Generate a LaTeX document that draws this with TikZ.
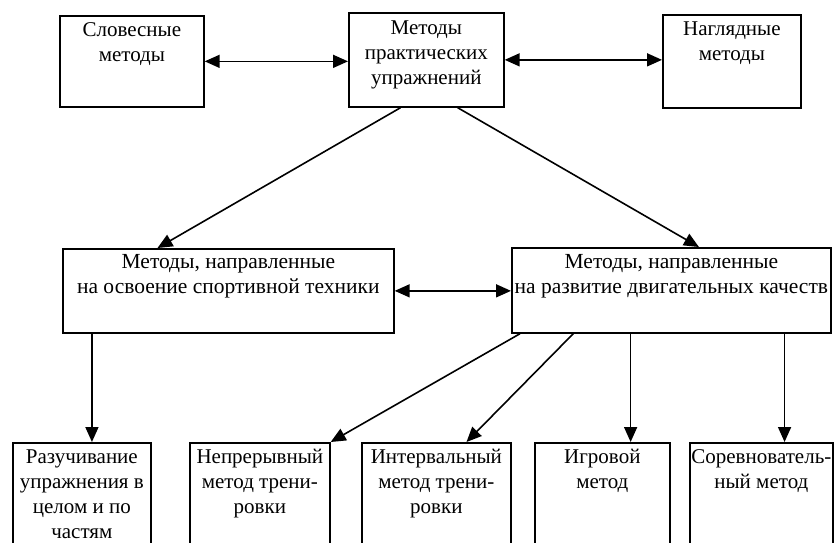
\documentclass[tikz,border=0pt]{standalone}
\usepackage{fontspec}
\setmainfont{Liberation Serif}
\usetikzlibrary{arrows.meta,calc}
\tikzset{
  box/.style={draw=black, line width=1.7pt, fill=none, inner sep=0pt, rectangle},
  txt/.style={align=center, inner sep=0pt, font=\fontsize{21}{25}\selectfont},
  txtw/.style={align=center, inner sep=0pt, font=\fontsize{21.5}{25}\selectfont},
  arr/.style={line width=1.6pt, -{Triangle[length=15pt,width=13pt]}},
  arrb/.style={line width=1.6pt, {Triangle[length=15pt,width=13pt]}-{Triangle[length=15pt,width=13pt]}}
}
\begin{document}
\begin{tikzpicture}[x=1pt,y=-1pt]
\useasboundingbox (0,0) rectangle (840,542);
\fill[white] (0,0) rectangle (840,542);
\clip (0,0) rectangle (840,542);
% top row
\node[box, minimum width=144pt, minimum height=91pt, anchor=north west] (slov) at (59,15) {};
\node[box, minimum width=155pt, minimum height=94pt, anchor=north west] (prak) at (348,12) {};
\node[box, minimum width=138pt, minimum height=93pt, anchor=north west] (nagl) at (662,14) {};
% middle row
\node[box, minimum width=331pt, minimum height=84pt, anchor=north west] (ml) at (62,248) {};
\node[box, minimum width=319pt, minimum height=85pt, anchor=north west] (mr) at (511,247) {};
% bottom row
\node[box, minimum width=138pt, minimum height=130pt, anchor=north west] (b1) at (12,442) {};
\node[box, minimum width=140pt, minimum height=130pt, anchor=north west] (b2) at (189,442) {};
\node[box, minimum width=149pt, minimum height=130pt, anchor=north west] (b3) at (361,442) {};
\node[box, minimum width=135pt, minimum height=130pt, anchor=north west] (b4) at (534,442) {};
\node[box, minimum width=143pt, minimum height=130pt, anchor=north west] (b5) at (689,442) {};
% texts (first baseline about 21pt below the box top; strut height 17.5pt)
\node[txt, anchor=north] (slovT) at ($(slov.north)+(0,3.5)$) {\strut Словесные\\методы};
\node[txt, anchor=north] (prakT) at ($(prak.north)+(0,4.5)$) {\strut Методы\\практических\\упражнений};
\node[txt, anchor=north] (naglT) at ($(nagl.north)+(0,3.5)$) {\strut Наглядные\\методы};
\node[txtw, anchor=north] (mlT) at ($(ml.north)+(0,3)$) {\strut Методы, направленные\\на освоение спортивной техники};
\node[txtw, anchor=north] (mrT) at ($(mr.north)+(0,3.5)$) {\strut Методы, направленные\\на развитие двигательных качеств};
\node[txt, anchor=north] (b1T) at ($(b1.north)+(0,3.5)$) {\strut Разучивание\\упражнения в\\целом и по\\частям};
\node[txt, anchor=north] (b2T) at ($(b2.north)+(0,3.5)$) {\strut Непрерывный\\метод трени-\\ровки};
\node[txt, anchor=north] (b3T) at ($(b3.north)+(0,3.5)$) {\strut Интервальный\\метод трени-\\ровки};
\node[txt, anchor=north] (b4T) at ($(b4.north)+(0,3.5)$) {\strut Игровой\\метод};
\node[txt, anchor=north] (b5T) at ($(b5.north)+(0,3.5)$) {\strut Соревнователь-\\ный метод};
% horizontal double arrows
\draw[arrb] (slov.east) -- (slov.east -| prak.west);
\draw[arrb] (prak.east) -- (prak.east -| nagl.west);
\draw[arrb] (ml.east) -- (ml.east -| mr.west);
% diagonals from top centre
\draw[arr] ($(prak.south west)!0.335!(prak.south east)$) -- ($(ml.north west)!0.287!(ml.north east)$);
\draw[arr] ($(prak.south west)!0.70!(prak.south east)$) -- ($(mr.north west)!0.586!(mr.north east)$);
% left vertical
\coordinate (l1) at ($(ml.south west)!0.09!(ml.south east)$);
\draw[arr] (l1) -- (l1 |- b1.north);
% from right middle box
\draw[arr] ($(mr.south west)!0.028!(mr.south east)$) -- (b2.north east);
\draw[arr] ($(mr.south west)!0.194!(mr.south east)$) -- ($(b3.north west)!0.70!(b3.north east)$);
\coordinate (r3) at ($(mr.south west)!0.373!(mr.south east)$);
\draw[arr] (r3) -- (r3 |- b4.north);
\coordinate (r4) at ($(mr.south west)!0.853!(mr.south east)$);
\draw[arr] (r4) -- (r4 |- b5.north);
\end{tikzpicture}
\end{document}
